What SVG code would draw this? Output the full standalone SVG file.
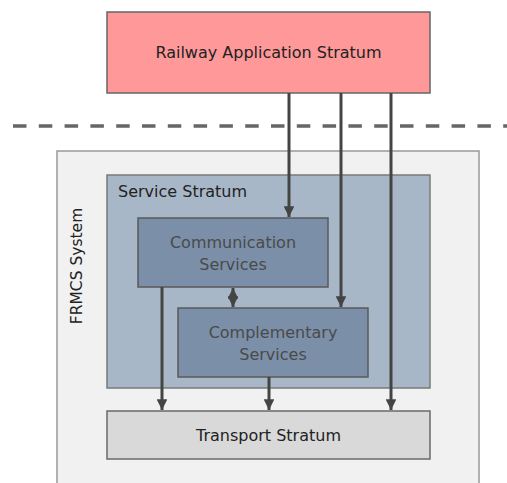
<svg xmlns="http://www.w3.org/2000/svg" width="507" height="483" viewBox="0 0 507 483">
  <style>
    text { font-family: "DejaVu Sans", "Liberation Sans", sans-serif; fill: #222; }
    .box { stroke-width: 1.5; }
    .conn { stroke: #444; stroke-width: 3; fill: none; }
    .inner-label { fill: #4a4a4a; font-size: 16px; }
  </style>
  <defs>
    <marker id="arrow" viewBox="0 0 10 10" refX="10" refY="5" markerWidth="3.8" markerHeight="3.6" markerUnits="strokeWidth" orient="auto-start-reverse">
      <path d="M0,0 L10,5 L0,10 Z" fill="#444"/>
    </marker>
  </defs>

  <rect width="507" height="483" fill="#ffffff"/>

  <!-- boundary between application and system -->
  <line x1="13" y1="126" x2="520" y2="126" stroke="#666" stroke-width="3.5" stroke-dasharray="13.5 12.3"/>

  <g id="railway-application">
    <rect class="box" x="107" y="12" width="323" height="81" fill="#ff9999" stroke="#666"/>
    <text x="268.5" y="58" font-size="16" text-anchor="middle">Railway Application Stratum</text>
  </g>

  <g id="frmcs-system">
    <rect class="box" x="57" y="151" width="422" height="340" fill="#f1f1f1" stroke="#999"/>
    <text transform="translate(82 266) rotate(-90)" font-size="15.5" text-anchor="middle">FRMCS System</text>
  </g>

  <g id="service-stratum">
    <rect class="box" x="107" y="175" width="323" height="213" fill="#a8b7c8" stroke="#7a7a7a"/>
    <text x="118" y="197" font-size="16">Service Stratum</text>
  </g>

  <g id="communication-services">
    <rect class="box" x="138" y="218" width="190" height="69" fill="#7b8fa8" stroke="#5a5a5a"/>
    <text class="inner-label" x="233" y="248" text-anchor="middle">Communication</text>
    <text class="inner-label" x="233" y="270" text-anchor="middle">Services</text>
  </g>

  <g id="complementary-services">
    <rect class="box" x="178" y="308" width="190" height="69" fill="#7b8fa8" stroke="#5a5a5a"/>
    <text class="inner-label" x="273" y="338" text-anchor="middle">Complementary</text>
    <text class="inner-label" x="273" y="360" text-anchor="middle">Services</text>
  </g>

  <g id="transport-stratum">
    <rect class="box" x="107" y="411" width="323" height="48" fill="#d9d9d9" stroke="#6a6a6a"/>
    <text x="268.5" y="441" font-size="16" text-anchor="middle">Transport Stratum</text>
  </g>

  <g id="connectors">
    <line class="conn" x1="289" y1="93" x2="289" y2="217" marker-end="url(#arrow)"/>
    <line class="conn" x1="341" y1="93" x2="341" y2="307" marker-end="url(#arrow)"/>
    <line class="conn" x1="391" y1="93" x2="391" y2="410" marker-end="url(#arrow)"/>
    <line class="conn" x1="162" y1="287" x2="162" y2="410" marker-end="url(#arrow)"/>
    <line class="conn" x1="269" y1="377" x2="269" y2="410" marker-end="url(#arrow)"/>
    <line class="conn" x1="233" y1="288" x2="233" y2="307" marker-start="url(#arrow)" marker-end="url(#arrow)"/>
  </g>
</svg>
